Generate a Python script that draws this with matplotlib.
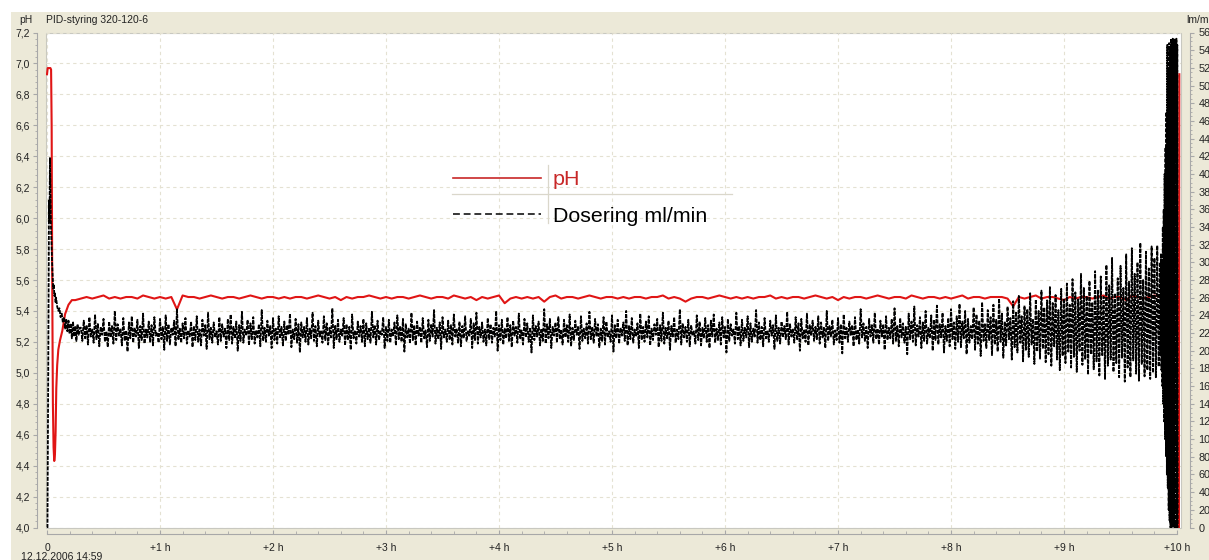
import numpy as np
import matplotlib
matplotlib.use("Agg")
import matplotlib.pyplot as plt
from matplotlib.ticker import MultipleLocator, FuncFormatter, FixedLocator
from matplotlib.lines import Line2D
from matplotlib.patches import Rectangle

W, H, DPI = 1209, 560, 100

# ---------------- data ----------------
title = "PID-styring 320-120-6"
left_unit = "pH"
right_unit = "lm/min"
start_stamp = "12.12.2006 14:59"
hour_labels = ["0", "+1 h", "+2 h", "+3 h", "+4 h", "+5 h", "+6 h", "+7 h", "+8 h", "+9 h", "+10 h"]
series_names = ["pH", "Dosering ml/min"]

# pH (left axis), hours since start
ph_start_t = [0.000, 0.006, 0.015, 0.030, 0.036, 0.041, 0.046, 0.052, 0.058, 0.064, 0.070,
              0.076, 0.082, 0.090, 0.100, 0.115, 0.135, 0.160, 0.190, 0.220]
ph_start_v = [6.93, 6.97, 6.97, 6.97, 6.96, 6.60, 5.60, 4.80, 4.52, 4.43, 4.47,
              4.62, 4.90, 5.05, 5.15, 5.21, 5.27, 5.38, 5.44, 5.47]
ph_body_t0 = 0.25
ph_body_dt = 0.05
ph_body = [
    5.47, 5.48, 5.49, 5.48, 5.49, 5.50, 5.48, 5.49, 5.48, 5.49, 5.49, 5.48, 5.50, 5.49, 5.48, 5.49, 5.48, 5.49, 5.41, 5.50,
    5.49, 5.49, 5.48, 5.49, 5.50, 5.49, 5.48, 5.49, 5.49, 5.48, 5.49, 5.50, 5.49, 5.48, 5.49, 5.49, 5.48, 5.49, 5.48, 5.49,
    5.49, 5.48, 5.49, 5.50, 5.49, 5.48, 5.49, 5.47, 5.49, 5.48, 5.49, 5.49, 5.50, 5.49, 5.48, 5.49, 5.48, 5.49, 5.49, 5.48,
    5.49, 5.50, 5.49, 5.48, 5.49, 5.49, 5.48, 5.50, 5.49, 5.48, 5.49, 5.47, 5.49, 5.48, 5.49, 5.50, 5.45, 5.48, 5.49, 5.48,
    5.49, 5.48, 5.49, 5.46, 5.49, 5.50, 5.48, 5.49, 5.49, 5.48, 5.49, 5.50, 5.49, 5.48, 5.49, 5.49, 5.48, 5.49, 5.48, 5.49,
    5.49, 5.48, 5.49, 5.49, 5.50, 5.48, 5.49, 5.48, 5.46, 5.48, 5.49, 5.49, 5.48, 5.49, 5.50, 5.49, 5.48, 5.49, 5.48, 5.49,
    5.48, 5.49, 5.49, 5.50, 5.48, 5.49, 5.48, 5.49, 5.49, 5.48, 5.49, 5.50, 5.49, 5.48, 5.49, 5.47, 5.49, 5.48, 5.49, 5.49,
    5.48, 5.49, 5.50, 5.49, 5.48, 5.49, 5.49, 5.48, 5.50, 5.49, 5.48, 5.49, 5.49, 5.48, 5.49, 5.48, 5.49, 5.50, 5.48, 5.49,
    5.49, 5.48, 5.49, 5.49, 5.49, 5.48, 5.43, 5.49, 5.48, 5.49, 5.50, 5.48, 5.49, 5.49, 5.48, 5.47, 5.49, 5.48, 5.49, 5.49,
    5.48, 5.49, 5.50, 5.48, 5.49, 5.49, 5.47, 5.50, 5.49, 5.48, 5.49, 5.50, 5.49, 5.48, 5.49,
]
ph_end_t = [9.990, 10.010, 10.015, 10.020]
ph_end_v = [5.49, 5.48, 3.90, 6.93]

# Dosering ml/min (right axis)
dose_start_t = [0.000, 0.004, 0.012, 0.018, 0.022, 0.026, 0.030, 0.035, 0.040, 0.045, 0.050,
                0.055, 0.060, 0.065, 0.070, 0.075, 0.080, 0.090, 0.100, 0.110, 0.120, 0.130,
                0.140, 0.150, 0.160, 0.170, 0.180, 0.190, 0.200, 0.210, 0.220, 0.230, 0.240,
                0.250, 0.260, 0.270, 0.280, 0.290]
dose_start_v = [0, 0, 200, 370, 345, 418, 380, 340, 320, 300, 285,
                270, 275, 262, 266, 255, 260, 250, 245, 248, 238, 242,
                232, 238, 225, 236, 222, 234, 219, 231, 214, 233, 216,
                228, 211, 230, 218, 226]
dose_body_t0 = 0.30
dose_body_dt = 0.0125
dose_body = [
    226, 211, 234, 214, 229, 207, 238, 216, 224, 209, 241, 213, 231, 205, 227, 218, 236, 210, 222, 204,
    233, 215, 228, 208, 245, 212, 230, 217, 225, 206, 237, 211, 223, 199, 232, 214, 239, 209, 226, 216,
    235, 203, 228, 212, 242, 208, 224, 215, 233, 210, 229, 206, 238, 217, 221, 209, 236, 213, 227, 201,
    240, 211, 230, 207, 226, 218, 234, 205, 247, 212, 225, 209, 231, 214, 237, 208, 223, 216, 233, 204,
    228, 212, 239, 210, 224, 206, 235, 217, 229, 202, 243, 213, 226, 209, 232, 215, 222, 207, 238, 211,
    230, 216, 225, 203, 236, 212, 241, 208, 227, 214, 233, 200, 229, 211, 244, 209, 224, 217, 235, 206,
    231, 213, 238, 208, 223, 215, 230, 205, 246, 211, 226, 210, 234, 217, 228, 203, 237, 212, 225, 208,
    239, 214, 227, 206, 233, 211, 229, 218, 242, 204, 224, 213, 236, 209, 230, 198, 232, 215, 227, 210,
    237, 207, 225, 214, 243, 211, 228, 205, 234, 216, 222, 209, 239, 212, 231, 207, 226, 215, 248, 203,
    229, 213, 235, 210, 224, 217, 237, 206, 230, 212, 227, 201, 241, 214, 223, 208, 233, 216, 228, 210,
    236, 205, 231, 213, 226, 209, 244, 215, 229, 207, 234, 212, 222, 218, 238, 203, 227, 211, 235, 209,
    224, 216, 232, 206, 240, 213, 228, 210, 236, 199, 230, 215, 225, 208, 243, 212, 229, 206, 233, 217,
    227, 209, 237, 214, 223, 204, 235, 211, 230, 216, 246, 208, 226, 213, 232, 202, 238, 215, 224, 210,
    234, 212, 229, 207, 241, 216, 225, 209, 233, 205, 228, 214, 239, 211, 222, 217, 236, 203, 231, 212,
    243, 208, 227, 215, 232, 210, 224, 206, 237, 213, 230, 209, 226, 216, 245, 200, 229, 212, 235, 207,
    225, 214, 238, 211, 229, 204, 234, 217, 227, 209, 242, 213, 223, 207, 236, 215, 231, 210, 226, 198,
    240, 212, 228, 216, 233, 206, 225, 211, 247, 208, 230, 214, 236, 203, 227, 217, 232, 209, 238, 213,
    224, 207, 235, 215, 229, 210, 241, 205, 226, 212, 234, 218, 228, 202, 239, 211, 225, 214, 231, 208,
    244, 213, 227, 209, 236, 216, 230, 204, 225, 211, 238, 207, 233, 215, 222, 210, 240, 199, 229, 214,
    235, 208, 226, 217, 232, 211, 245, 206, 228, 213, 237, 209, 224, 216, 231, 203, 242, 212, 227, 210,
    233, 215, 239, 206, 225, 212, 230, 218, 236, 204, 229, 211, 243, 208, 226, 214, 234, 201, 228, 216,
    238, 209, 224, 213, 247, 207, 231, 215, 227, 210, 235, 205, 229, 217, 222, 208, 240, 212, 233, 206,
    226, 214, 237, 210, 229, 203, 234, 216, 241, 209, 225, 212, 232, 207, 238, 215, 227, 198, 236, 211,
    230, 217, 224, 208, 243, 213, 228, 206, 235, 211, 226, 215, 239, 204, 231, 210, 225, 216, 246, 209,
    232, 212, 227, 205, 237, 214, 223, 210, 234, 217, 229, 202, 240, 211, 226, 208, 233, 215, 228, 213,
    244, 207, 230, 216, 225, 209, 238, 212, 231, 200, 236, 214, 224, 210, 242, 206, 229, 217, 234, 211,
    227, 213, 239, 208, 232, 215, 226, 203, 245, 211, 228, 216, 235, 207, 223, 212, 237, 209, 230, 197,
    241, 214, 226, 210, 233, 217, 229, 205, 238, 212, 224, 208, 247, 215, 231, 211, 227, 203, 236, 216,
    229, 209, 243, 213, 225, 207, 234, 216, 230, 201, 239, 212, 226, 214, 236, 208, 248, 211, 228, 205,
    237, 215, 231, 209, 227, 196, 242, 213, 233, 210, 250, 206, 229, 216, 238, 203, 232, 211, 245, 208,
    226, 214, 240, 200, 235, 212, 251, 207, 230, 215, 243, 198, 228, 211, 237, 205, 247, 213, 232, 202,
    239, 210, 253, 204, 233, 214, 245, 196, 236, 209, 228, 213, 249, 201, 241, 208, 234, 194, 255, 211,
    230, 203, 246, 212, 238, 195, 252, 207, 235, 199, 259, 210, 242, 192, 233, 206, 250, 213, 237, 190,
    256, 204, 244, 198, 262, 209, 239, 188, 251, 201, 247, 193, 265, 207, 236, 185, 258, 199, 245, 191,
    268, 202, 249, 187, 257, 196, 272, 183, 254, 205, 263, 190, 246, 178, 270, 194, 259, 186, 276, 199,
    252, 181, 281, 193, 266, 176, 258, 200, 287, 184, 271, 190, 262, 173, 279, 196, 255, 179, 290, 188,
    268, 172, 284, 195, 261, 168, 297, 183, 274, 190, 305, 176, 265, 186, 282, 170, 296, 192, 271, 165,
    309, 181, 278, 170, 316, 189, 287, 174, 300, 166, 322, 185, 280, 171, 312, 178, 293, 168, 318, 175,
    305, 170, 319, 182, 300,
]
dose_end_t0 = 9.854
dose_end_dt = 0.004
dose_end = [195, 310, 178, 300, 160, 340, 140, 360, 120, 400, 100, 430, 80, 470, 60, 546, 45, 520,
            20, 548, 8, 540, 0, 553, 0, 550, 2, 553, 0, 545, 0, 552, 0, 548, 0, 553, 0, 546, 0]

# ---------------- assemble series ----------------
ph_t = np.concatenate([ph_start_t, ph_body_t0 + ph_body_dt * np.arange(len(ph_body)), ph_end_t])
ph_v = np.concatenate([ph_start_v, ph_body, ph_end_v])
dose_t = np.concatenate([dose_start_t,
                         dose_body_t0 + dose_body_dt * np.arange(len(dose_body)),
                         dose_end_t0 + dose_end_dt * np.arange(len(dose_end))])
dose_v = np.concatenate([dose_start_v, dose_body, dose_end])

# ---------------- styling ----------------
plt.rcParams['font.family'] = ['Liberation Sans', 'DejaVu Sans']
BEIGE = '#ECE9D8'
AXIS_GRAY = '#A8A8A8'
TXT = '#222222'
RED = '#E01515'

fig = plt.figure(figsize=(W / DPI, H / DPI), dpi=DPI, facecolor='white')
fig.add_artist(Rectangle((11 / W, 0), 1, 1 - 12 / H, transform=fig.transFigure,
                         facecolor=BEIGE, edgecolor='none', zorder=-10))

px_left, px_right, px_top, px_bottom = 46, 1181, 32.5, 527.5
ax = fig.add_axes([px_left / W, 1 - px_bottom / H, (px_right - px_left) / W, (px_bottom - px_top) / H])
ax.set_facecolor('white')
ax.set_xlim(-0.009, 10.035)
ax.set_ylim(4.0, 7.2)

for s in ['top', 'right']:
    ax.spines[s].set_visible(False)
ax.spines['left'].set_position(('outward', 6.5))
ax.spines['left'].set_color(AXIS_GRAY)
ax.spines['left'].set_linewidth(0.8)
ax.spines['bottom'].set_position(('outward', 5))
ax.spines['bottom'].set_color(AXIS_GRAY)
ax.spines['bottom'].set_linewidth(0.8)
ax.spines['bottom'].set_bounds(0, 10)

ax.add_patch(Rectangle((0, 0), 1, 1, transform=ax.transAxes, fill=False,
                       edgecolor='#C8C8C0', lw=0.8, zorder=0.5, clip_on=False))

ax.yaxis.set_major_locator(MultipleLocator(0.2))
ax.yaxis.set_minor_locator(MultipleLocator(0.04))
ax.yaxis.set_major_formatter(FuncFormatter(lambda v, p: f"{v:.1f}".replace('.', ',')))
ax.xaxis.set_major_locator(FixedLocator(list(range(len(hour_labels)))))
ax.set_xticklabels(hour_labels)
ax.xaxis.set_minor_locator(MultipleLocator(0.2))

ax.tick_params(axis='y', which='major', direction='out', length=3, width=0.8, color=AXIS_GRAY,
               labelsize=7.5, labelcolor=TXT, pad=2)
ax.tick_params(axis='y', which='minor', direction='out', length=1.5, width=0.6, color=AXIS_GRAY)
ax.tick_params(axis='x', which='major', direction='in', length=3, width=0.8, color=AXIS_GRAY,
               labelsize=7.5, labelcolor=TXT, pad=6.5)
ax.tick_params(axis='x', which='minor', direction='in', length=2, width=0.6, color=AXIS_GRAY)

ax.grid(True, which='major', color='#E4E1D2', linestyle=(0, (3, 3)), linewidth=0.8)
ax.set_axisbelow(True)

ax.plot(ph_t, ph_v, color=RED, lw=1.5, zorder=2)

ax2 = ax.twinx()
ax2.set_ylim(0, 560)
for s in ['top', 'left', 'bottom']:
    ax2.spines[s].set_visible(False)
ax2.spines['right'].set_position(('outward', 6.5))
ax2.spines['right'].set_color(AXIS_GRAY)
ax2.spines['right'].set_linewidth(0.8)
ax2.yaxis.set_major_locator(MultipleLocator(20))
ax2.yaxis.set_minor_locator(MultipleLocator(5))
ax2.tick_params(axis='y', which='major', direction='out', length=3, width=0.8, color=AXIS_GRAY,
                labelsize=7.8, labelcolor=TXT, pad=3)
ax2.tick_params(axis='y', which='minor', direction='out', length=1.5, width=0.6, color=AXIS_GRAY)

ax2.plot(dose_t, dose_v, color='black', lw=1.3, linestyle=(0, (2.2, 0.7)), zorder=3)

# legend
handles = [Line2D([], [], color='#C82828', lw=1.2),
           Line2D([], [], color='black', lw=1.1, linestyle=(0, (4.5, 2.5)))]
leg = ax2.legend(handles, series_names, loc='upper left', bbox_to_anchor=(453 / W, 1 - 170 / H),
                 bbox_transform=fig.transFigure, frameon=False, fontsize=15.4,
                 handlelength=4.1, handletextpad=0.56, labelspacing=0.82,
                 borderpad=0, borderaxespad=0, labelcolor=['#C82828', 'black'])
SEP = '#DAD7CB'
fig.add_artist(Line2D([548 / W, 548 / W], [1 - 165 / H, 1 - 223 / H], color=SEP, lw=0.9,
                      transform=fig.transFigure))
fig.add_artist(Line2D([452 / W, 732 / W], [1 - 194 / H, 1 - 194 / H], color=SEP, lw=0.9,
                      transform=fig.transFigure))

# header / footer texts
fig.text(33 / W, 1 - 20 / H, left_unit, ha='right', va='center', fontsize=7.5, color=TXT)
fig.text(46 / W, 1 - 20 / H, title, ha='left', va='center', fontsize=7.5, color=TXT)
fig.text(1186 / W, 1 - 20 / H, right_unit, ha='left', va='center', fontsize=7.5, color=TXT)
fig.text(21 / W, 1 - 552 / H, start_stamp, ha='left', va='top', fontsize=7.5, color=TXT)

fig.savefig('out.png', dpi=DPI, facecolor=fig.get_facecolor())
